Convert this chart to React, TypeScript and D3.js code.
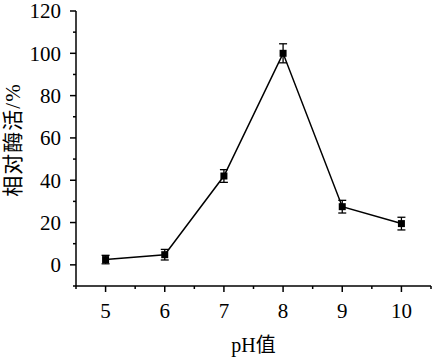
import React from "react";
import * as d3 from "d3";

const phValues = [5, 6, 7, 8, 9, 10];
const activity = [2.5, 4.8, 42, 100, 27.5, 19.5];
const errors = [2, 2.5, 3, 4.5, 3, 3];
const xTicks = [5, 6, 7, 8, 9, 10];
const yTicks = [0, 20, 40, 60, 80, 100, 120];

const W = 432;
const H = 358;
const left = 76;
const right = 431;
const top = 11;
const bottom = 286;

export default function App() {
  const x = d3.scaleLinear().domain([4.5, 10.5]).range([left, right]);
  const y = d3.scaleLinear().domain([-10, 120]).range([bottom, top]);
  const line = d3
    .line<number>()
    .x((_, i) => x(phValues[i]))
    .y((d) => y(d));
  const minorX = d3.range(4.5, 10.51, 0.5).filter((v) => !xTicks.includes(v));
  const minorY = d3.range(-10, 121, 10).filter((v) => !yTicks.includes(v));
  const font = "Liberation Serif, Times New Roman, DejaVu Serif, Noto Sans CJK SC, serif";
  return (
    <svg
      width={W}
      height={H}
      style={{ position: "absolute", left: 0, top: 0, background: "#fff", fontFamily: font }}
    >
      <g stroke="#000" strokeWidth={1.5} fill="none">
        <line x1={left} x2={left} y1={top} y2={bottom} />
        <line x1={left} x2={right} y1={bottom} y2={bottom} />
        {yTicks.map((t) => (
          <line key={"ym" + t} x1={left - 6} x2={left} y1={y(t)} y2={y(t)} />
        ))}
        {minorY.map((t) => (
          <line key={"yn" + t} x1={left - 3} x2={left} y1={y(t)} y2={y(t)} />
        ))}
        {xTicks.map((t) => (
          <line key={"xm" + t} x1={x(t)} x2={x(t)} y1={bottom} y2={bottom + 6} />
        ))}
        {minorX.map((t) => (
          <line key={"xn" + t} x1={x(t)} x2={x(t)} y1={bottom} y2={bottom + 3} />
        ))}
      </g>
      <g fill="#000" style={{ fontFamily: font, fontSize: 21 }}>
        {yTicks.map((t) => (
          <text key={"yl" + t} x={left - 15} y={y(t)} dy="0.35em" textAnchor="end">
            {t}
          </text>
        ))}
        {xTicks.map((t) => (
          <text key={"xl" + t} x={x(t)} y={bottom + 32} textAnchor="middle">
            {t}
          </text>
        ))}
      </g>
      <text x={x(7.5)} y={352} textAnchor="middle" style={{ fontFamily: font, fontSize: 20 }}>
        pH值
      </text>
      <text
        transform={`translate(20, ${y(59)}) rotate(-90)`}
        textAnchor="middle"
        style={{ fontFamily: font, fontSize: 21, letterSpacing: 1 }}
      >
        相对酶活/%
      </text>
      <path d={line(activity) || ""} fill="none" stroke="#000" strokeWidth={1.5} />
      <g stroke="#000" strokeWidth={1.3}>
        {activity.map((v, i) => {
          const cx = x(phValues[i]);
          return (
            <g key={"e" + i}>
              <line x1={cx} x2={cx} y1={y(v - errors[i])} y2={y(v + errors[i])} />
              <line x1={cx - 4} x2={cx + 4} y1={y(v - errors[i])} y2={y(v - errors[i])} />
              <line x1={cx - 4} x2={cx + 4} y1={y(v + errors[i])} y2={y(v + errors[i])} />
            </g>
          );
        })}
      </g>
      {activity.map((v, i) => (
        <rect
          key={"p" + i}
          x={x(phValues[i]) - 3.5}
          y={y(v) - 3.5}
          width={7}
          height={7}
          fill="#000"
        />
      ))}
    </svg>
  );
}
